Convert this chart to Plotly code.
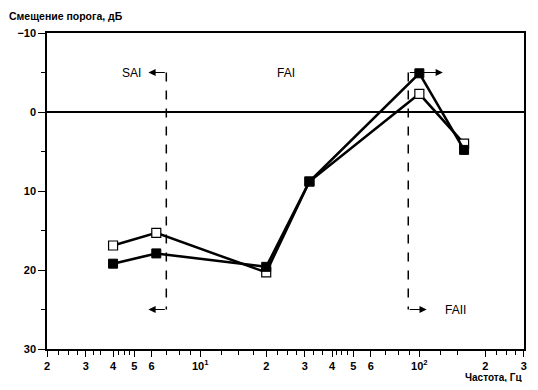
import math
import plotly.graph_objects as go

# ---- data ----
freq = [4, 6.3, 20, 31.5, 100, 160]
shift_open = [16.9, 15.3, 20.3, 8.8, -2.3, 4.0]
shift_filled = [19.2, 17.9, 19.6, 8.8, -4.9, 4.8]

x_tickvals = [2, 3, 4, 5, 6, 10, 20, 30, 40, 50, 60, 100, 200, 300]
x_ticktext = ["2", "3", "4", "5", "6", "10<sup>1</sup>", "2", "3", "4", "5", "6",
              "10<sup>2</sup>", "2", "3"]
x_minor = [2.25, 2.5, 2.75, 3.25, 3.5, 4.25, 4.5, 4.75, 7, 8, 9,
           12.5, 15, 17.5, 22.5, 25, 27.5, 33, 36, 42, 44, 47, 70, 80, 90,
           125, 150, 225, 250, 275]
y_tickvals = [-10, 0, 10, 20, 30]
y_minor = [-5, 5, 15, 25]

FONT = "Liberation Sans, Arial, sans-serif"
L = math.log10

fig = go.Figure()
fig.add_trace(go.Scatter(
    x=freq, y=shift_open, mode="lines+markers",
    line=dict(color="black", width=2.5),
    marker=dict(symbol="square", size=9, color="white",
                line=dict(color="black", width=1.2)),
    showlegend=False))
fig.add_trace(go.Scatter(
    x=freq, y=shift_filled, mode="lines+markers",
    line=dict(color="black", width=2.5),
    marker=dict(symbol="square", size=9, color="black",
                line=dict(color="black", width=1)),
    showlegend=False))

shapes = []
# zero line
shapes.append(dict(type="line", xref="paper", yref="y", x0=0, x1=1, y0=0, y1=0,
                   line=dict(color="black", width=2)))
# SAI and FAII dashed boundaries (shapes use data values on log axes)
for xv in (7, 89):
    shapes.append(dict(type="line", xref="x", yref="y", x0=xv, x1=xv,
                       y0=-5, y1=25, line=dict(color="black", width=1.5, dash="dash")))
fig.update_layout(shapes=shapes)

annots = []
arrows = [(7, 5.8, -5), (7, 5.8, 25), (89, 128, -5), (89, 108, 25)]
for x0, x1, yv in arrows:
    annots.append(dict(x=L(x1), y=yv, ax=L(x0), ay=yv, xref="x", yref="y",
                       axref="x", ayref="y", text="", showarrow=True,
                       arrowhead=2, arrowsize=1.2, arrowwidth=1.2, arrowcolor="black"))
labels = [("SAI", 4.85, -4.9), ("FAI", 24.7, -4.9), ("FAII", 146, 25.0)]
for t, xv, yv in labels:
    annots.append(dict(x=L(xv), y=yv, xref="x", yref="y", text=t, showarrow=False,
                       font=dict(family=FONT, size=12, color="black")))
annots.append(dict(x=0, y=1, xref="paper", yref="paper", text="<b>Смещение порога, дБ</b>",
                   showarrow=False, xanchor="left", yanchor="bottom", xshift=-40, yshift=9,
                   font=dict(family=FONT, size=10.5, color="black")))
annots.append(dict(x=1, y=0, xref="paper", yref="paper", text="<b>Частота, Гц</b>",
                   showarrow=False, xanchor="right", yanchor="top", yshift=-21,
                   font=dict(family=FONT, size=10, color="black")))
fig.update_layout(annotations=annots)

fig.update_xaxes(
    type="log", range=[L(2) - 0.0005, L(300) + 0.0005], automargin=False,
    tickvals=x_tickvals, ticktext=x_ticktext,
    ticks="outside", ticklen=6, tickwidth=1.2, tickcolor="black",
    showline=True, linecolor="black", linewidth=1.5, mirror=True,
    showgrid=False, zeroline=False, ticklabeloverflow="allow",
    tickfont=dict(family=FONT, size=11, color="black", weight="bold"),
    minor=dict(tickvals=x_minor, ticks="outside", ticklen=4, tickwidth=1.2,
               tickcolor="black", showgrid=False))
fig.update_yaxes(
    range=[30, -10], tickvals=y_tickvals, automargin=False,
    ticks="outside", ticklen=7, tickwidth=1.2, tickcolor="black",
    showline=True, linecolor="black", linewidth=1.5, mirror=True,
    showgrid=False, zeroline=False,
    tickfont=dict(family=FONT, size=11, color="black", weight="bold"),
    minor=dict(tickvals=y_minor, ticks="outside", ticklen=4, tickwidth=1.2,
               tickcolor="black", showgrid=False))

# page has an 8px body margin; compensate so the plot area matches the reference
fig.update_layout(
    width=522, height=374,
    margin=dict(l=39, r=6, t=25, b=33),
    paper_bgcolor="white", plot_bgcolor="white",
    font=dict(family=FONT, color="black"))

fig.write_html("out.html")
